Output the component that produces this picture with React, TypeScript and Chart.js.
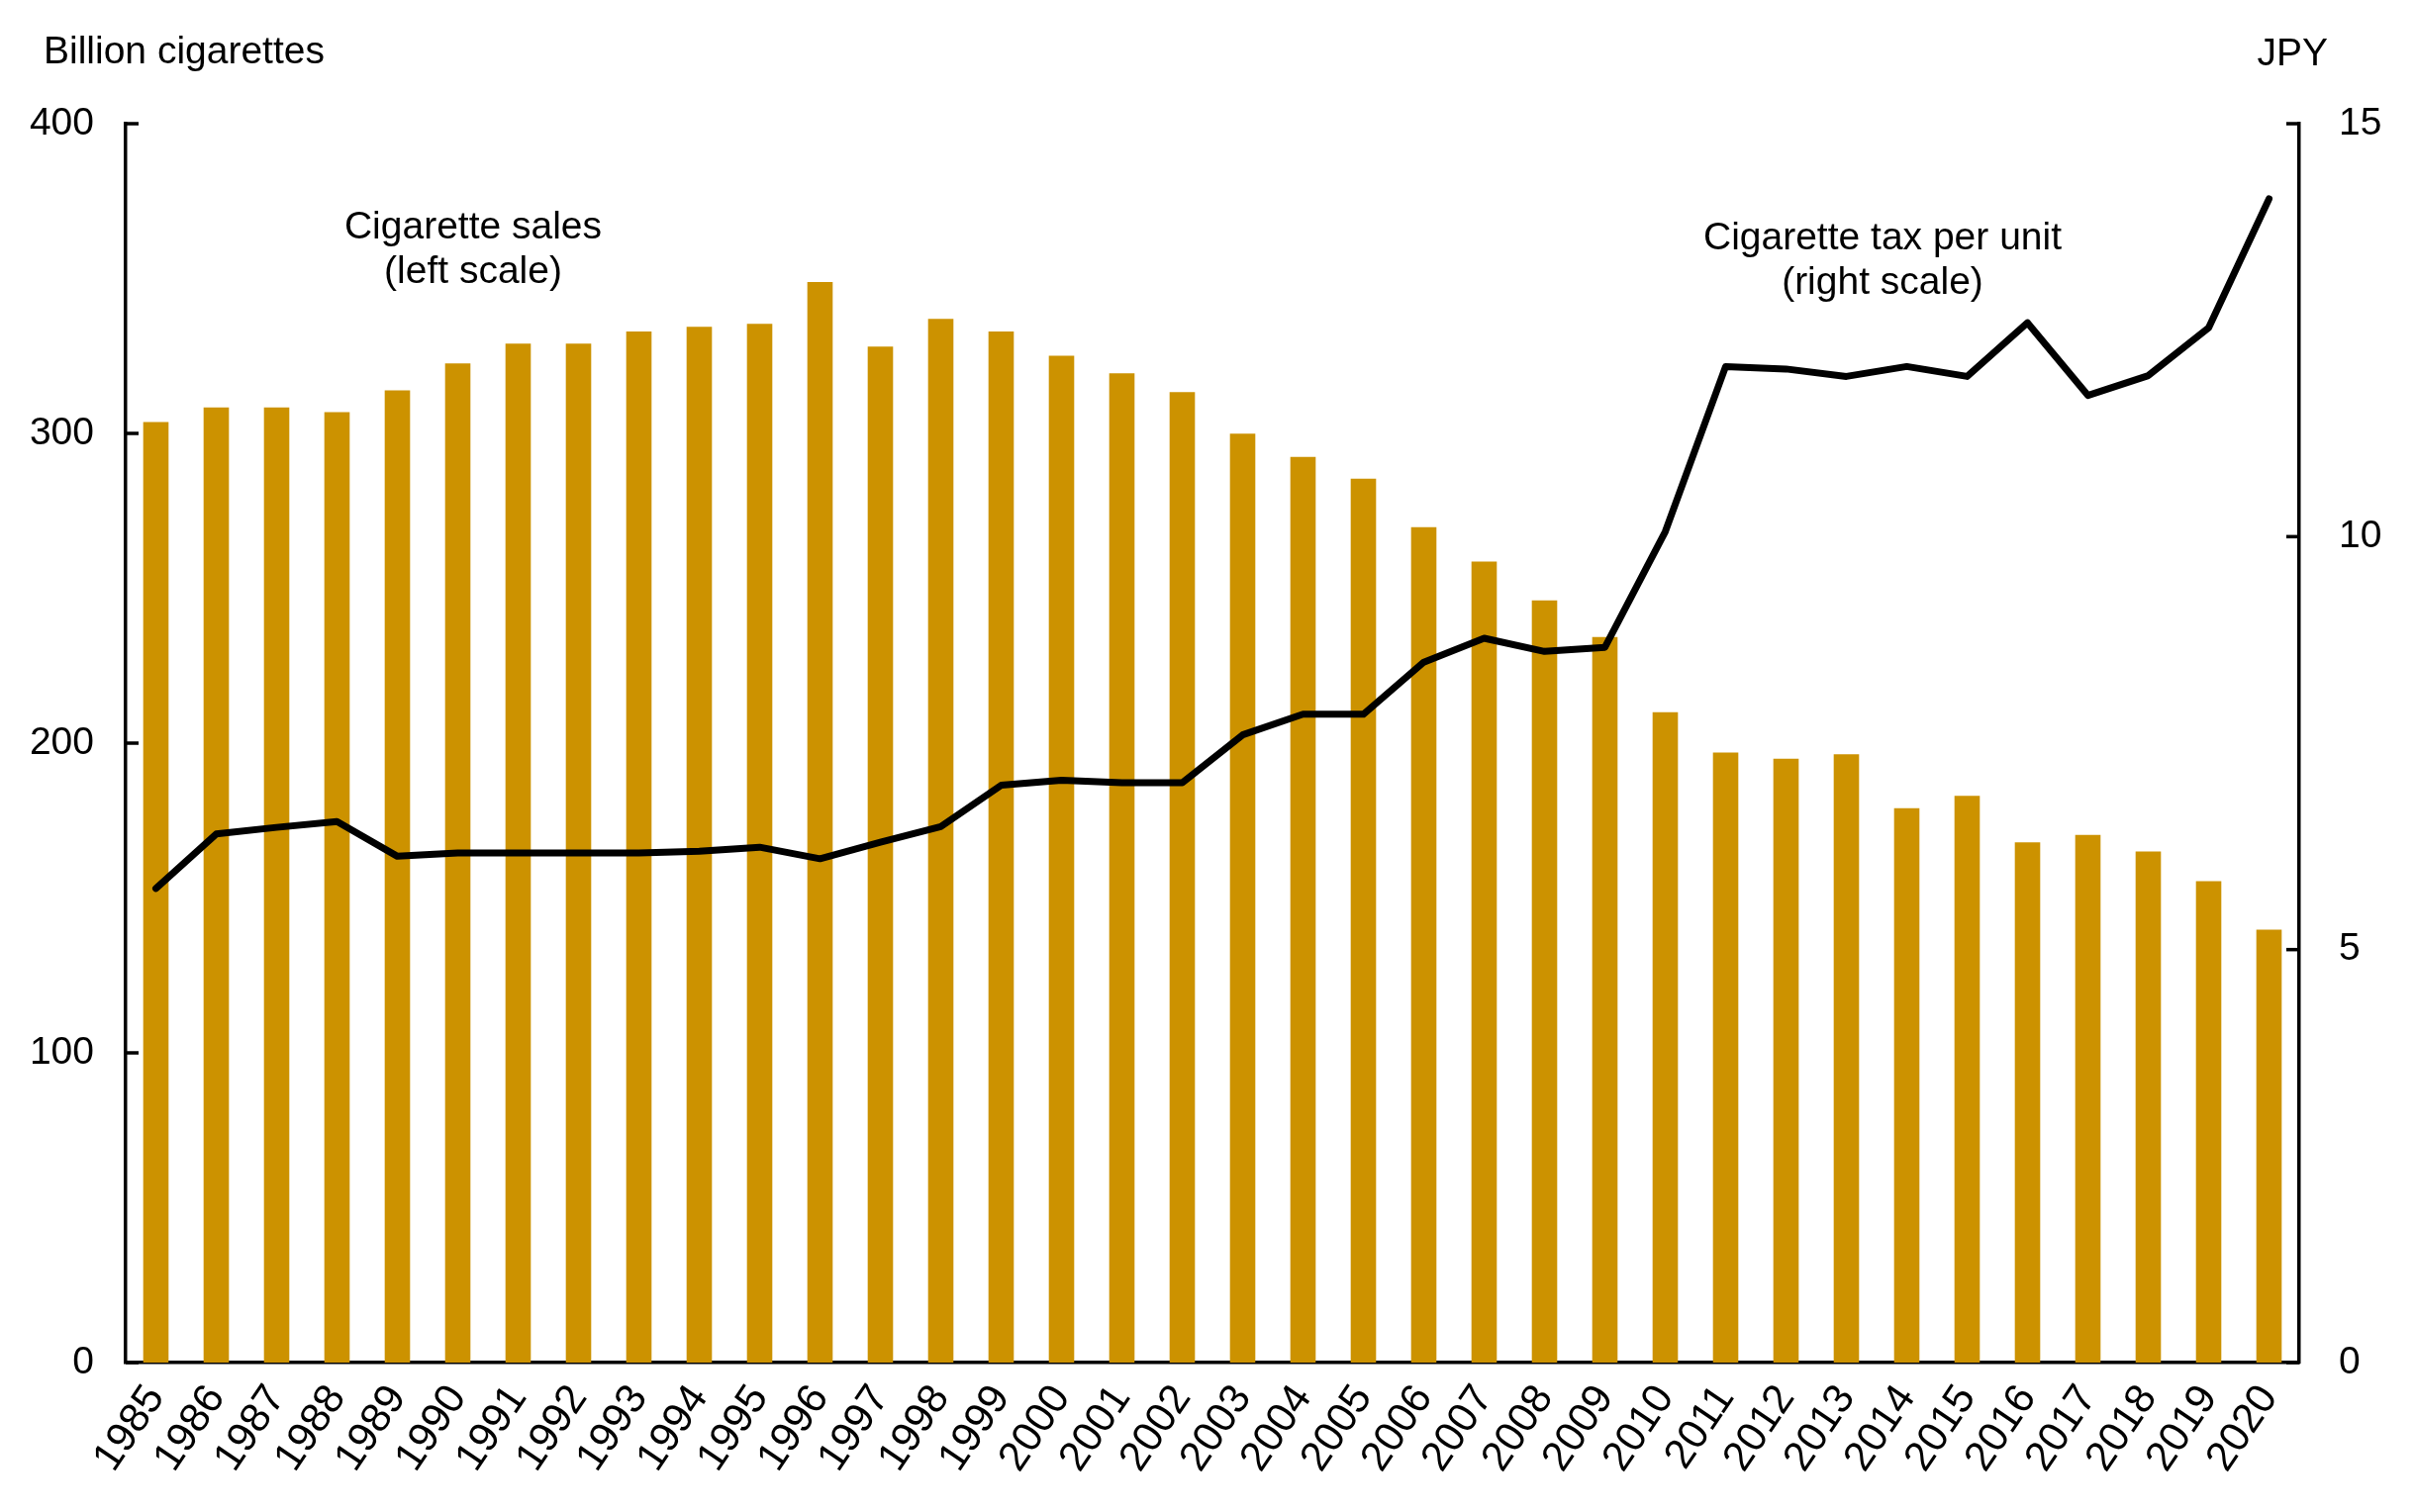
import React, { useEffect, useRef } from 'react';
import { Chart, registerables } from 'chart.js';
import type { Plugin } from 'chart.js';

Chart.register(...registerables);

const years = [
  '1985', '1986', '1987', '1988', '1989', '1990', '1991', '1992', '1993', '1994', '1995', '1996',
  '1997', '1998', '1999', '2000', '2001', '2002', '2003', '2004', '2005', '2006', '2007', '2008',
  '2009', '2010', '2011', '2012', '2013', '2014', '2015', '2016', '2017', '2018', '2019', '2020',
];

// Billion cigarettes (left scale)
const sales = [
  303.7, 308.4, 308.4, 306.9, 313.9, 322.6, 329, 329, 332.9, 334.4, 335.4, 348.9,
  328, 337, 332.9, 325.1, 319.4, 313.3, 299.9, 292.4, 285.4, 269.7, 258.6, 246.1,
  234.3, 210, 197, 195, 196.4, 179, 183, 168, 170.4, 165, 155.4, 139.8,
];

// JPY per cigarette (right scale)
const taxPerUnit = [
  5.74, 6.4, 6.48, 6.55, 6.13, 6.17, 6.17, 6.17, 6.17, 6.19, 6.24, 6.1,
  6.3, 6.49, 6.99, 7.05, 7.02, 7.02, 7.6, 7.85, 7.85, 8.48, 8.77, 8.61,
  8.66, 10.06, 12.06, 12.03, 11.94, 12.06, 11.94, 12.59, 11.71, 11.95, 12.53, 14.09,
];

const leftTicks = [0, 100, 200, 300, 400];
const rightTicks = [0, 5, 10, 15];

const FONT = 'Arial, "Liberation Sans", sans-serif';
const FONT_SIZE = 39;
const YEAR_FONT_SIZE = 42;
const BAR_COLOR = '#CC9200';
const AXIS_WIDTH = 3.5;

// inward tick marks on both value axes, plus the unit and series labels
const decorPlugin: Plugin<'bar'> = {
  id: 'decorPlugin',
  afterDraw: (chart) => {
    const { ctx, chartArea } = chart;
    const left = (chart.scales as any).y;
    const right = (chart.scales as any).y1;
    ctx.save();
    ctx.strokeStyle = '#000';
    ctx.lineWidth = AXIS_WIDTH;
    const tickLen = 13;
    left.ticks.forEach((t: any) => {
      const y = left.getPixelForValue(t.value);
      ctx.beginPath();
      ctx.moveTo(chartArea.left, y);
      ctx.lineTo(chartArea.left + tickLen, y);
      ctx.stroke();
    });
    right.ticks.forEach((t: any) => {
      const y = right.getPixelForValue(t.value);
      ctx.beginPath();
      ctx.moveTo(chartArea.right, y);
      ctx.lineTo(chartArea.right - tickLen, y);
      ctx.stroke();
    });

    ctx.fillStyle = '#000';
    ctx.font = `${FONT_SIZE}px ${FONT}`;
    ctx.textBaseline = 'middle';
    ctx.textAlign = 'left';
    ctx.fillText('Billion cigarettes', 44, 53);
    ctx.textAlign = 'right';
    ctx.fillText('JPY', 2352, 55);

    ctx.textAlign = 'center';
    ctx.fillText('Cigarette sales', 478, 230);
    ctx.fillText('(left scale)', 478, 275);
    ctx.fillText('Cigarette tax per unit', 1902, 241);
    ctx.fillText('(right scale)', 1902, 286);
    ctx.restore();
  },
};

const App: React.FC = () => {
  const canvasRef = useRef<HTMLCanvasElement>(null);
  const chartRef = useRef<Chart | null>(null);

  useEffect(() => {
    if (!canvasRef.current) return;
    if (chartRef.current) chartRef.current.destroy();

    Chart.defaults.font.family = FONT;
    Chart.defaults.font.size = FONT_SIZE;
    Chart.defaults.color = '#000';

    chartRef.current = new Chart(canvasRef.current, {
      type: 'bar',
      data: {
        labels: years,
        datasets: [
          {
            type: 'line' as any,
            label: 'Cigarette tax per unit',
            data: taxPerUnit,
            yAxisID: 'y1',
            borderColor: '#000',
            borderWidth: 7,
            pointRadius: 0,
            tension: 0,
            borderJoinStyle: 'round',
            borderCapStyle: 'round',
            order: 1,
          } as any,
          {
            label: 'Cigarette sales',
            data: sales,
            yAxisID: 'y',
            backgroundColor: BAR_COLOR,
            barPercentage: 0.42,
            categoryPercentage: 1,
            order: 2,
          },
        ],
      },
      options: {
        animation: false,
        responsive: true,
        maintainAspectRatio: false,
        layout: { padding: { top: 125, left: 0, right: 0, bottom: 0 } },
        plugins: {
          legend: { display: false },
          tooltip: { enabled: false },
        },
        scales: {
          x: {
            offset: true,
            grid: { display: false, drawTicks: false },
            border: { display: true, color: '#000', width: AXIS_WIDTH },
            ticks: {
              autoSkip: false,
              minRotation: 56,
              maxRotation: 56,
              padding: 14,
              font: { size: YEAR_FONT_SIZE },
            },
            afterFit: (s: any) => { s.height = 151; },
          },
          y: {
            position: 'left',
            min: 0,
            max: 400,
            afterBuildTicks: (s: any) => { s.ticks = leftTicks.map((v) => ({ value: v })); },
            grid: { display: false, drawTicks: false },
            border: { display: true, color: '#000', width: AXIS_WIDTH },
            ticks: { padding: 32, font: { size: FONT_SIZE } },
            afterFit: (s: any) => { s.width = 127; },
          },
          y1: {
            position: 'right',
            min: 0,
            max: 15,
            afterBuildTicks: (s: any) => { s.ticks = rightTicks.map((v) => ({ value: v })); },
            grid: { display: false, drawTicks: false },
            border: { display: true, color: '#000', width: AXIS_WIDTH },
            ticks: { padding: 40, font: { size: FONT_SIZE } },
            afterFit: (s: any) => { s.width = 117; },
          },
        },
      },
      plugins: [decorPlugin as any],
    });

    return () => {
      if (chartRef.current) {
        chartRef.current.destroy();
        chartRef.current = null;
      }
    };
  }, []);

  return (
    <div style={{ position: 'fixed', left: 0, top: 0, width: 2440, height: 1528, background: '#fff' }}>
      <canvas ref={canvasRef} />
    </div>
  );
};

export default App;
